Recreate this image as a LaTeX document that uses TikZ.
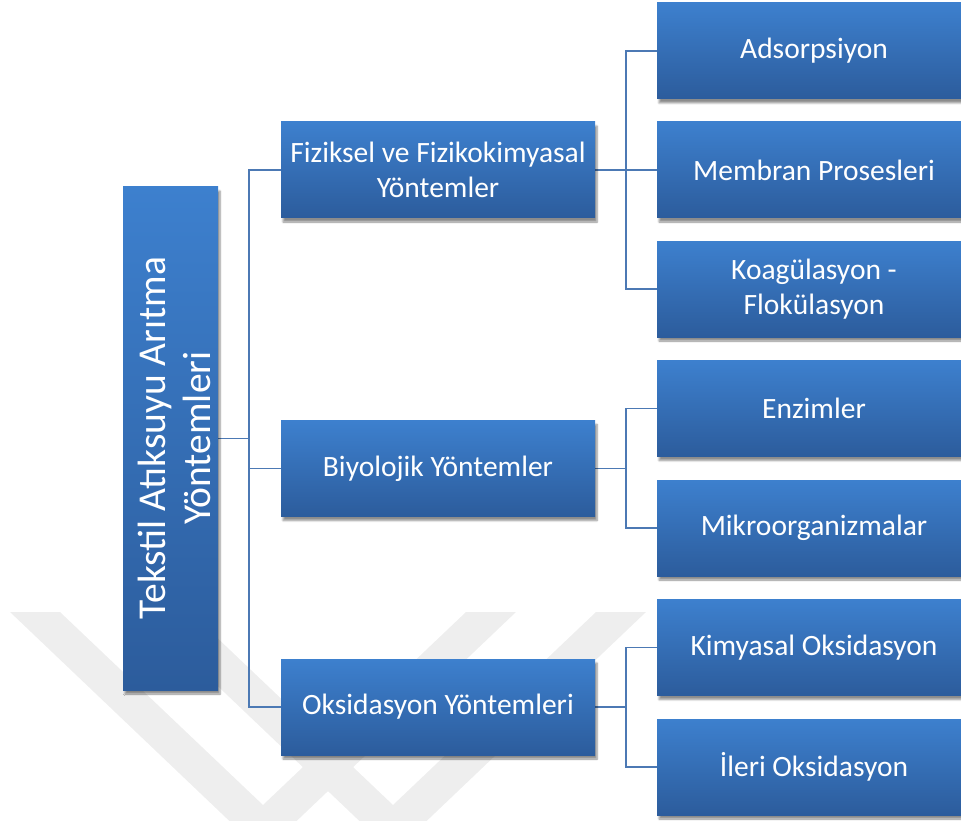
\documentclass[tikz,border=0pt]{standalone}
\usepackage{fontspec}
\setmainfont{Carlito}
\usetikzlibrary{shadows.blur}

\definecolor{boxtop}{RGB}{61,128,206}
\definecolor{boxbot}{RGB}{44,92,156}
\definecolor{linkblue}{RGB}{76,121,180}
\definecolor{markgray}{RGB}{238,238,238}

\pgfdeclarelayer{bg}
\pgfsetlayers{bg,main}

\tikzset{
  boxshade/.style={top color=boxtop, bottom color=boxbot,
    blur shadow={shadow xshift=2pt, shadow yshift=-4pt, shadow blur steps=6, shadow opacity=45}},
  box/.style={boxshade, rectangle, minimum width=314pt, minimum height=96pt, inner sep=0pt,
    text=white, font=\fontsize{29.5}{35}\selectfont, align=center},
  rootbox/.style={boxshade, rectangle, minimum width=95pt, minimum height=503pt, inner sep=0pt},
  roottext/.style={text=white, font=\fontsize{39.5}{45}\selectfont, align=center, inner sep=0pt},
  link/.style={draw=linkblue, line width=1.6pt},
  chevron/.style={fill=markgray},
}

\begin{document}
\begin{tikzpicture}[x=1pt, y=-1pt]
\clip (0,0) rectangle (961,821);

% root of the tree
\node[rootbox] (root) at (170.5,438.5) {};
\node[roottext, rotate=90] (rootlabel) at (174,438) {Tekstil Atıksuyu Arıtma\\Yöntemleri};

% method groups
\node[box] (fiz) at (438,170) {Fiziksel ve Fizikokimyasal\\Yöntemler};
\node[box] (bio) at (438,468.5) {Biyolojik Yöntemler};
\node[box] (oks) at (438,707) {Oksidasyon Yöntemleri};

% individual methods
\node[box] (ads) at (814,51)  {Adsorpsiyon};
\node[box] (mem) at (814,170) {Membran Prosesleri};
\node[box] (koa) at (814,289) {Koagülasyon -\\Flokülasyon};
\node[box] (enz) at (814,408.5) {Enzimler};
\node[box] (mik) at (814,528) {Mikroorganizmalar};
\node[box] (kim) at (814,647.5) {Kimyasal Oksidasyon};
\node[box] (ile) at (814,767) {İleri Oksidasyon};

% junction points of the elbow connectors
\coordinate (spine) at (249,438.5);
\coordinate (fj) at (626,170);
\coordinate (bj) at (626,468.5);
\coordinate (oj) at (626,707);

\begin{pgfonlayer}{bg}
  % faint double chevron mark behind the chart
  \foreach \dx in {0,130} {
    \fill[chevron, xshift=\dx pt]
      (10,612) -- (263,853) -- (516,612) -- (466,612) -- (263,805) -- (60,612) -- cycle;
  }

  \draw[link] (root.east) -- (spine);
  \draw[link] (spine) |- (fiz.west);
  \draw[link] (spine) |- (bio.west);
  \draw[link] (spine) |- (oks.west);

  \draw[link] (fiz.east) -- (fj);
  \draw[link] (fj) |- (ads.west);
  \draw[link] (fj) |- (mem.west);
  \draw[link] (fj) |- (koa.west);

  \draw[link] (bio.east) -- (bj);
  \draw[link] (bj) |- (enz.west);
  \draw[link] (bj) |- (mik.west);

  \draw[link] (oks.east) -- (oj);
  \draw[link] (oj) |- (kim.west);
  \draw[link] (oj) |- (ile.west);
\end{pgfonlayer}
\end{tikzpicture}
\end{document}
